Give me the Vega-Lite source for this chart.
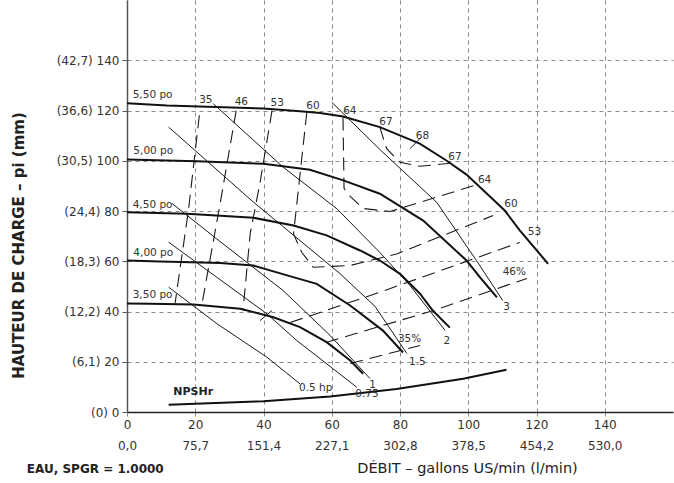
{
  "$schema": "https://vega.github.io/schema/vega-lite/v6.json",
  "width": 546,
  "height": 412,
  "autosize": {"type": "none"},
  "padding": {"left": 127, "top": 0, "right": 1, "bottom": 71},
  "background": "white",
  "view": {"stroke": null},
  "datasets": {
    "curves": [
      {"s":"i550","k":"imp","o":0,"x":0,"y":122.9},{"s":"i550","k":"imp","o":1,"x":11.7,"y":122.0},{"s":"i550","k":"imp","o":2,"x":39.9,"y":120.8},{"s":"i550","k":"imp","o":3,"x":50.7,"y":119.7},{"s":"i550","k":"imp","o":4,"x":56.6,"y":119.0},{"s":"i550","k":"imp","o":5,"x":63.3,"y":117.6},{"s":"i550","k":"imp","o":6,"x":74.1,"y":113.4},{"s":"i550","k":"imp","o":7,"x":85.8,"y":106.8},{"s":"i550","k":"imp","o":8,"x":93.6,"y":100.1},{"s":"i550","k":"imp","o":9,"x":99.5,"y":94.5},{"s":"i550","k":"imp","o":10,"x":110.7,"y":80.2},{"s":"i550","k":"imp","o":11,"x":115.1,"y":72.3},{"s":"i550","k":"imp","o":12,"x":123.4,"y":59.0},
      {"s":"i500","k":"imp","o":0,"x":0,"y":100.5},{"s":"i500","k":"imp","o":1,"x":20.5,"y":99.8},{"s":"i500","k":"imp","o":2,"x":40.0,"y":98.8},{"s":"i500","k":"imp","o":3,"x":53.6,"y":96.4},{"s":"i500","k":"imp","o":4,"x":63.4,"y":92.2},{"s":"i500","k":"imp","o":5,"x":74.1,"y":86.9},{"s":"i500","k":"imp","o":6,"x":86.8,"y":76.2},{"s":"i500","k":"imp","o":7,"x":99.5,"y":60.3},{"s":"i500","k":"imp","o":8,"x":103.4,"y":53.7},{"s":"i500","k":"imp","o":9,"x":108.4,"y":45.6},
      {"s":"i450","k":"imp","o":0,"x":0,"y":79.5},{"s":"i450","k":"imp","o":1,"x":17.6,"y":78.9},{"s":"i450","k":"imp","o":2,"x":37.1,"y":77.3},{"s":"i450","k":"imp","o":3,"x":48.8,"y":74.2},{"s":"i450","k":"imp","o":4,"x":58.5,"y":70.3},{"s":"i450","k":"imp","o":5,"x":68.3,"y":64.3},{"s":"i450","k":"imp","o":6,"x":74.1,"y":60.3},{"s":"i450","k":"imp","o":7,"x":80.0,"y":55.0},{"s":"i450","k":"imp","o":8,"x":85.8,"y":47.2},{"s":"i450","k":"imp","o":9,"x":89.6,"y":40.4},{"s":"i450","k":"imp","o":10,"x":94.6,"y":33.6},
      {"s":"i400","k":"imp","o":0,"x":0,"y":60.3},{"s":"i400","k":"imp","o":1,"x":9.7,"y":59.9},{"s":"i400","k":"imp","o":2,"x":27.3,"y":59.3},{"s":"i400","k":"imp","o":3,"x":37.0,"y":58.3},{"s":"i400","k":"imp","o":4,"x":48.7,"y":53.7},{"s":"i400","k":"imp","o":5,"x":55.6,"y":51.0},{"s":"i400","k":"imp","o":6,"x":65.4,"y":42.4},{"s":"i400","k":"imp","o":7,"x":75.0,"y":32.4},{"s":"i400","k":"imp","o":8,"x":80.9,"y":23.7},
      {"s":"i350","k":"imp","o":0,"x":0,"y":43.2},{"s":"i350","k":"imp","o":1,"x":6.8,"y":43.1},{"s":"i350","k":"imp","o":2,"x":19.5,"y":42.8},{"s":"i350","k":"imp","o":3,"x":33.2,"y":41.1},{"s":"i350","k":"imp","o":4,"x":42.9,"y":37.7},{"s":"i350","k":"imp","o":5,"x":50.7,"y":33.8},{"s":"i350","k":"imp","o":6,"x":58.5,"y":27.8},{"s":"i350","k":"imp","o":7,"x":65.4,"y":20.5},{"s":"i350","k":"imp","o":8,"x":69.2,"y":15.2},
      {"s":"npsh","k":"npsh","o":0,"x":12.2,"y":2.9},{"s":"npsh","k":"npsh","o":1,"x":40.0,"y":4.3},{"s":"npsh","k":"npsh","o":2,"x":59.5,"y":6.2},{"s":"npsh","k":"npsh","o":3,"x":79.0,"y":9.2},{"s":"npsh","k":"npsh","o":4,"x":98.5,"y":13.2},{"s":"npsh","k":"npsh","o":5,"x":111.2,"y":16.8},
      {"s":"h05","k":"hp","o":0,"x":12.2,"y":49.7},{"s":"h05","k":"hp","o":1,"x":26.4,"y":35.1},{"s":"h05","k":"hp","o":2,"x":41.0,"y":21.8},{"s":"h05","k":"hp","o":3,"x":50.7,"y":11.2},
      {"s":"h075","k":"hp","o":0,"x":12.2,"y":67.6},{"s":"h075","k":"hp","o":1,"x":41.0,"y":39.1},{"s":"h075","k":"hp","o":2,"x":49.7,"y":28.5},{"s":"h075","k":"hp","o":3,"x":67.3,"y":9.9},
      {"s":"h1","k":"hp","o":0,"x":13.2,"y":83.0},{"s":"h1","k":"hp","o":1,"x":26.3,"y":68.9},{"s":"h1","k":"hp","o":2,"x":45.7,"y":48.4},{"s":"h1","k":"hp","o":3,"x":59.5,"y":30.5},{"s":"h1","k":"hp","o":4,"x":71.2,"y":13.3},
      {"s":"h15","k":"hp","o":0,"x":12.2,"y":113.4},{"s":"h15","k":"hp","o":1,"x":37.0,"y":83.6},{"s":"h15","k":"hp","o":2,"x":62.4,"y":55.1},{"s":"h15","k":"hp","o":3,"x":72.7,"y":42.0},{"s":"h15","k":"hp","o":4,"x":82.0,"y":23.3},
      {"s":"h2","k":"hp","o":0,"x":25.3,"y":122.7},{"s":"h2","k":"hp","o":1,"x":45.8,"y":97.4},{"s":"h2","k":"hp","o":2,"x":61.5,"y":80.9},{"s":"h2","k":"hp","o":3,"x":74.1,"y":63.5},{"s":"h2","k":"hp","o":4,"x":82.9,"y":50.4},{"s":"h2","k":"hp","o":5,"x":93.2,"y":32.5},
      {"s":"h3","k":"hp","o":0,"x":60.0,"y":123.3},{"s":"h3","k":"hp","o":1,"x":74.4,"y":104.1},{"s":"h3","k":"hp","o":2,"x":90.8,"y":83.4},{"s":"h3","k":"hp","o":3,"x":102.4,"y":60.3},{"s":"h3","k":"hp","o":4,"x":110.1,"y":44.4},
      {"s":"m68","k":"hp","o":0,"x":82.9,"y":104.8},{"s":"m68","k":"hp","o":1,"x":86.3,"y":109.4},
      {"s":"mx","k":"hp","o":0,"x":39.0,"y":36.4},{"s":"mx","k":"hp","o":1,"x":42.5,"y":40.4},
      {"s":"e35L","k":"eff","o":0,"x":21.2,"y":118.1},{"s":"e35L","k":"eff","o":1,"x":18.0,"y":80.2},{"s":"e35L","k":"eff","o":2,"x":15.6,"y":57.6},{"s":"e35L","k":"eff","o":3,"x":14.1,"y":43.4},
      {"s":"e35R","k":"eff","o":0,"x":65.4,"y":19.3},{"s":"e35R","k":"eff","o":1,"x":85.9,"y":26.5},
      {"s":"e46L","k":"eff","o":0,"x":32.0,"y":120.0},{"s":"e46L","k":"eff","o":1,"x":27.3,"y":83.0},{"s":"e46L","k":"eff","o":2,"x":22.0,"y":43.2},
      {"s":"e46R","k":"eff","o":0,"x":58.3,"y":27.7},{"s":"e46R","k":"eff","o":1,"x":89.8,"y":40.4},{"s":"e46R","k":"eff","o":2,"x":111.2,"y":50.4},{"s":"e46R","k":"eff","o":3,"x":117.2,"y":53.1},
      {"s":"e53L","k":"eff","o":0,"x":42.5,"y":120.0},{"s":"e53L","k":"eff","o":1,"x":39.0,"y":91.4},{"s":"e53L","k":"eff","o":2,"x":36.1,"y":71.0},{"s":"e53L","k":"eff","o":3,"x":34.0,"y":40.4},
      {"s":"e53R","k":"eff","o":0,"x":47.8,"y":35.6},{"s":"e53R","k":"eff","o":1,"x":74.1,"y":47.7},{"s":"e53R","k":"eff","o":2,"x":115.1,"y":67.5},
      {"s":"e60","k":"eff","o":0,"x":52.7,"y":119.4},{"s":"e60","k":"eff","o":1,"x":48.8,"y":70.9},{"s":"e60","k":"eff","o":2,"x":51.2,"y":63.6},{"s":"e60","k":"eff","o":3,"x":54.6,"y":57.6},{"s":"e60","k":"eff","o":4,"x":65.3,"y":58.3},{"s":"e60","k":"eff","o":5,"x":79.0,"y":62.9},{"s":"e60","k":"eff","o":6,"x":107.3,"y":78.2},
      {"s":"e64","k":"eff","o":0,"x":63.3,"y":117.2},{"s":"e64","k":"eff","o":1,"x":63.6,"y":89.0},{"s":"e64","k":"eff","o":2,"x":65.4,"y":85.8},{"s":"e64","k":"eff","o":3,"x":69.2,"y":81.0},{"s":"e64","k":"eff","o":4,"x":77.1,"y":79.8},{"s":"e64","k":"eff","o":5,"x":102.8,"y":90.6},
      {"s":"e67","k":"eff","o":0,"x":74.1,"y":113.4},{"s":"e67","k":"eff","o":1,"x":75.3,"y":108.1},{"s":"e67","k":"eff","o":2,"x":76.1,"y":104.8},{"s":"e67","k":"eff","o":3,"x":80.0,"y":99.4},{"s":"e67","k":"eff","o":4,"x":85.8,"y":97.8},{"s":"e67","k":"eff","o":5,"x":94.6,"y":99.0}
    ],
    "labels": [
      {"k":"lbl","x":7.5,"y":126.3,"t":"5,50 po"},
      {"k":"lbl","x":7.7,"y":103.7,"t":"5,00 po"},
      {"k":"lbl","x":7.5,"y":82.2,"t":"4,50 po"},
      {"k":"lbl","x":7.7,"y":63.2,"t":"4,00 po"},
      {"k":"lbl","x":7.5,"y":46.4,"t":"3,50 po"},
      {"k":"lbl","x":23.1,"y":124.3,"t":"35"},
      {"k":"lbl","x":33.5,"y":123.3,"t":"46"},
      {"k":"lbl","x":44.0,"y":122.9,"t":"53"},
      {"k":"lbl","x":54.5,"y":122.0,"t":"60"},
      {"k":"lbl","x":65.3,"y":120.0,"t":"64"},
      {"k":"lbl","x":75.9,"y":115.6,"t":"67"},
      {"k":"lbl","x":86.6,"y":109.8,"t":"68"},
      {"k":"lbl","x":96.1,"y":101.7,"t":"67"},
      {"k":"lbl","x":104.8,"y":92.4,"t":"64"},
      {"k":"lbl","x":112.5,"y":82.9,"t":"60"},
      {"k":"lbl","x":119.4,"y":71.6,"t":"53"},
      {"k":"lbl","x":113.5,"y":55.7,"t":"46%"},
      {"k":"lbl","x":82.8,"y":29.1,"t":"35%"},
      {"k":"lbl","x":55.3,"y":9.5,"t":"0.5 hp"},
      {"k":"lbl","x":70.3,"y":7.0,"t":"0.75"},
      {"k":"lbl","x":72.0,"y":10.9,"t":"1"},
      {"k":"lbl","x":85.1,"y":19.8,"t":"1.5"},
      {"k":"lbl","x":93.7,"y":28.1,"t":"2"},
      {"k":"lbl","x":111.2,"y":41.7,"t":"3"},
      {"k":"bold","x":19.4,"y":7.9,"t":"NPSHr"},
      {"k":"note","x":-9.3,"y":-22.5,"t":"EAU, SPGR = 1.0000"}
    ]
  },
  "encoding": {
    "x": {
      "field": "x", "type": "quantitative",
      "scale": {"domain": [0, 160], "nice": false, "zero": false},
      "axis": {
        "values": [0, 20, 40, 60, 80, 100, 120, 140],
        "grid": true, "gridDash": [4, 4], "gridColor": "#8a8a8a", "gridWidth": 1,
        "domainColor": "#222", "domainWidth": 1.5,
        "ticks": true, "tickSize": 4, "tickColor": "#8a8a8a",
        "labelExpr": "[datum.label, replace(format(datum.value*3.78541,'.1f'),'.',',')]",
        "labelLineHeight": 21, "labelFont": "DejaVu Sans", "labelFontSize": 12, "labelColor": "#333",
        "labelPadding": 3, "labelFlush": false, "labelOverlap": false, "labelBaseline": "top",
        "title": "DÉBIT – gallons US/min (l/min)",
        "titleX": 340, "titleY": 56, "titleAlign": "center", "titleBaseline": "middle",
        "titleFont": "DejaVu Sans", "titleFontSize": 14.5, "titleFontWeight": "normal", "titleColor": "#222"
      }
    },
    "y": {
      "field": "y", "type": "quantitative",
      "scale": {"domain": [0, 164], "nice": false, "zero": false},
      "axis": {
        "values": [0, 20, 40, 60, 80, 100, 120, 140],
        "grid": true, "gridDash": [4, 4], "gridColor": "#8a8a8a", "gridWidth": 1,
        "domainColor": "#555", "domainWidth": 1.5,
        "ticks": true, "tickSize": 5, "tickColor": "#555",
        "labelExpr": "datum.value == 0 ? '(0) 0' : '(' + replace(format(datum.value*0.3048,'.1f'),'.',',') + ') ' + datum.value",
        "labelFont": "DejaVu Sans", "labelFontSize": 12, "labelColor": "#333", "labelPadding": 3,
        "title": "HAUTEUR DE CHARGE – pi (mm)",
        "titleX": -109, "titleY": 245, "titleAngle": -90, "titleAlign": "center", "titleBaseline": "middle",
        "titleFont": "DejaVu Sans", "titleFontSize": 15, "titleFontWeight": "bold", "titleColor": "#222"
      }
    }
  },
  "layer": [
    {
      "data": {"name": "curves"},
      "transform": [{"filter": "datum.k == 'eff'"}],
      "mark": {"type": "line", "color": "#1a1a1a", "strokeWidth": 1.1, "strokeDash": [13, 7]},
      "encoding": {"detail": {"field": "s"}, "order": {"field": "o", "type": "quantitative"}}
    },
    {
      "data": {"name": "curves"},
      "transform": [{"filter": "datum.k == 'hp'"}],
      "mark": {"type": "line", "color": "#1a1a1a", "strokeWidth": 1},
      "encoding": {"detail": {"field": "s"}, "order": {"field": "o", "type": "quantitative"}}
    },
    {
      "data": {"name": "curves"},
      "transform": [{"filter": "datum.k == 'imp' || datum.k == 'npsh'"}],
      "mark": {"type": "line", "color": "#111", "strokeWidth": 2},
      "encoding": {"detail": {"field": "s"}, "order": {"field": "o", "type": "quantitative"}}
    },
    {
      "data": {"name": "labels"},
      "transform": [{"filter": "datum.k == 'lbl'"}],
      "mark": {"type": "text", "font": "DejaVu Sans", "fontSize": 10.5, "color": "#333", "align": "center", "baseline": "middle"},
      "encoding": {"text": {"field": "t"}}
    },
    {
      "data": {"name": "labels"},
      "transform": [{"filter": "datum.k == 'bold'"}],
      "mark": {"type": "text", "font": "DejaVu Sans", "fontSize": 11, "fontWeight": "bold", "color": "#222", "align": "center", "baseline": "middle"},
      "encoding": {"text": {"field": "t"}}
    },
    {
      "data": {"name": "labels"},
      "transform": [{"filter": "datum.k == 'note'"}],
      "mark": {"type": "text", "font": "DejaVu Sans", "fontSize": 12, "fontWeight": "bold", "color": "#222", "align": "center", "baseline": "middle"},
      "encoding": {"text": {"field": "t"}}
    }
  ]
}
